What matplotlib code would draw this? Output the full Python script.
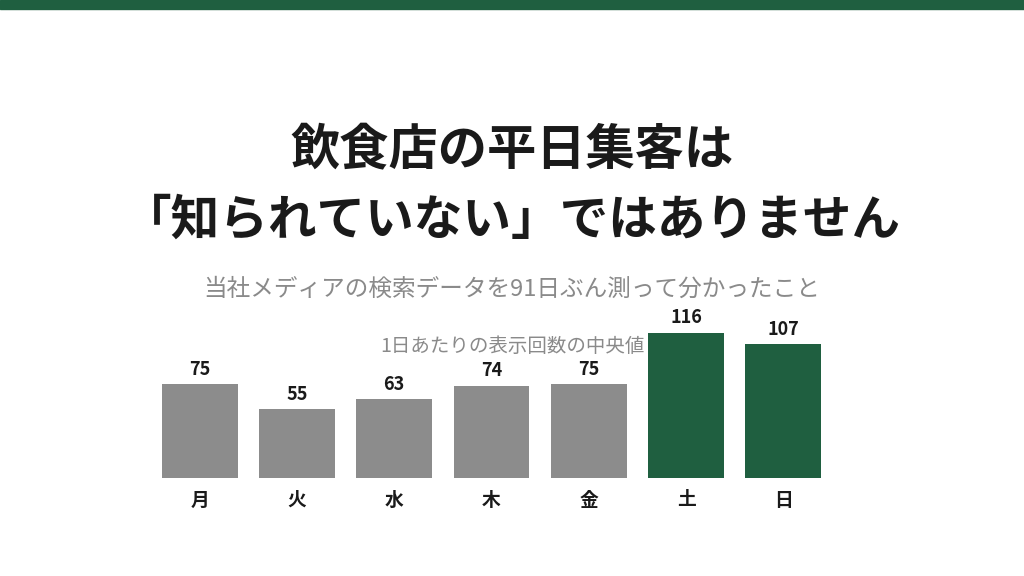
import matplotlib
matplotlib.use("Agg")
import matplotlib.pyplot as plt

plt.rcParams['font.family'] = ['Noto Sans CJK JP', 'DejaVu Sans']

days = ["月", "火", "水", "木", "金", "土", "日"]
views = [75, 55, 63, 74, 75, 116, 107]
weekend = [False, False, False, False, False, True, True]

GREEN = "#1f5f40"
GRAY = "#8c8c8c"

W, H = 1024, 576
fig = plt.figure(figsize=(W / 100, H / 100), dpi=100)
fig.patch.set_facecolor("white")

# top band
fig.patches.append(plt.Rectangle((0, 1 - 9 / H), 1, 9 / H, transform=fig.transFigure,
                                 color=GREEN, zorder=0))

fig.text(0.5, 1 - 150 / H, "飲食店の平日集客は", ha="center", va="center",
         fontsize=35.5, fontweight="bold", color="#1a1a1a")
fig.text(0.5, 1 - 220 / H, "「知られていない」ではありません", ha="center", va="center",
         fontsize=35, fontweight="bold", color="#1a1a1a")
fig.text(0.5, 1 - 289 / H, "当社メディアの検索データを91日ぶん測って分かったこと",
         ha="center", va="center", fontsize=17, color="#8a8a8a")
fig.text(0.5, 1 - 346 / H, "1日あたりの表示回数の中央値", ha="center", va="center",
         fontsize=14, color="#8a8a8a")

left, right = 151, 832
base, top = 478, 333
ax = fig.add_axes([left / W, (H - base) / H, (right - left) / W, (base - top) / H])
ax.set_xlim(-0.5, len(days) - 0.5)
ax.set_ylim(0, max(views))
ax.axis("off")

x = range(len(days))
cols = [GREEN if w else GRAY for w in weekend]
ax.bar(x, views, width=0.78, color=cols)
for i, v in enumerate(views):
    ax.annotate(str(v), (i, v), xytext=(0, 4), textcoords="offset points",
                ha="center", va="bottom", fontsize=13, fontweight="bold",
                color="#1a1a1a", annotation_clip=False)
    ax.annotate(days[i], (i, 0), xytext=(0, -9), textcoords="offset points",
                ha="center", va="top", fontsize=13.5, fontweight="bold",
                color="#1a1a1a", annotation_clip=False)

fig.savefig("out.png", dpi=100)
